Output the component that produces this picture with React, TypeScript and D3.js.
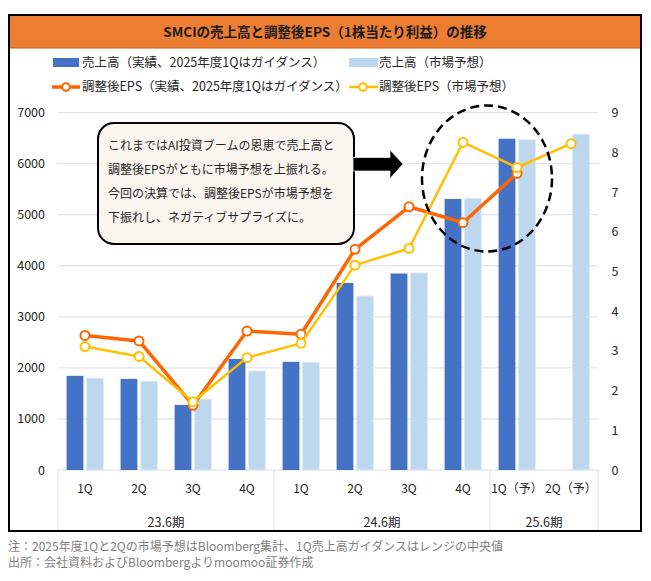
import React from "react";
import * as d3 from "d3";

const quarters = ["1Q", "2Q", "3Q", "4Q", "1Q", "2Q", "3Q", "4Q", "1Q（予）", "2Q（予）"];
const fiscalYears = ["23.6期", "24.6期", "25.6期"];
const fiscalYearSizes = [4, 4, 2];
const revenueActual: (number | null)[] = [1845, 1785, 1275, 2175, 2120, 3665, 3850, 5310, 6490, null];
const revenueConsensus: (number | null)[] = [1800, 1740, 1390, 1940, 2110, 3410, 3860, 5320, 6470, 6580];
const epsActual: (number | null)[] = [3.39, 3.25, 1.63, 3.5, 3.42, 5.56, 6.63, 6.23, 7.47, null];
const epsConsensus: (number | null)[] = [3.11, 2.86, 1.72, 2.83, 3.19, 5.16, 5.58, 8.25, 7.62, 8.22];
const leftTicks = [0, 1000, 2000, 3000, 4000, 5000, 6000, 7000];
const rightTicks = [0, 1, 2, 3, 4, 5, 6, 7, 8, 9];

const titleText = "SMCIの売上高と調整後EPS（1株当たり利益）の推移";
const legendLabels = [
  "売上高（実績、2025年度1Qはガイダンス）",
  "売上高（市場予想）",
  "調整後EPS（実績、2025年度1Qはガイダンス）",
  "調整後EPS（市場予想）",
];
const noteLines = [
  "これまではAI投資ブームの恩恵で売上高と",
  "調整後EPSがともに市場予想を上振れる。",
  "今回の決算では、調整後EPSが市場予想を",
  "下振れし、ネガティブサプライズに。",
];
const footnotes = [
  "注：2025年度1Qと2Qの市場予想はBloomberg集計、1Q売上高ガイダンスはレンジの中央値",
  "出所：会社資料およびBloombergよりmoomoo証券作成",
];

const FONT = "'Noto Sans CJK JP', 'Noto Sans', sans-serif";
const C_BLUE = "#4472C4";
const C_LIGHT = "#BDD7EE";
const C_ORANGE = "#FF6600";
const C_YELLOW = "#FFC000";
const C_GRID = "#D9DEE6";
const C_TEXT = "#262626";

export default function App() {
  const W = 651, H = 581;
  const plotL = 58, plotR = 598, plotT = 112.7, plotB = 470;
  const frameL = 9, frameR = 641, frameT = 15, frameB = 531;

  const idx = quarters.map((_, i) => String(i));
  const x = d3.scaleBand<string>().domain(idx).range([plotL, plotR]).paddingInner(0).paddingOuter(0);
  const xs = d3.scaleBand<string>().domain(["a", "c"]).range([0, x.bandwidth()]).paddingInner(0.16).paddingOuter(0.43);
  const y = d3.scaleLinear().domain([0, 7000]).range([plotB, plotT]);
  const y2 = d3.scaleLinear().domain([0, 9]).range([plotB, plotT]);

  const cx = (i: number) => (x(String(i)) as number) + x.bandwidth() / 2;

  const lineGen = d3
    .line<[number, number | null]>()
    .defined((d) => d[1] !== null)
    .x((d) => cx(d[0]))
    .y((d) => y2(d[1] as number));

  const epsA = epsActual.map((v, i) => [i, v] as [number, number | null]);
  const epsC = epsConsensus.map((v, i) => [i, v] as [number, number | null]);

  // group boundaries
  const boundaries: number[] = [0];
  fiscalYearSizes.forEach((s, i) => boundaries.push(boundaries[i] + s));
  const boundaryX = (k: number) => (k < quarters.length ? (x(String(k)) as number) : plotR);

  return (
    <svg width={W} height={H} style={{ position: "absolute", left: 0, top: 0, background: "#fff" }} fontFamily={FONT}>
      {/* frame + title band */}
      <rect x={frameL} y={frameT} width={frameR - frameL} height={48 - frameT} fill="#ED7D31" />
      <line x1={frameL} x2={frameR} y1={48} y2={48} stroke="#C55A11" strokeWidth={1} />
      <text x={(frameL + frameR) / 2} y={37} textAnchor="middle" fontSize={13.5} fontWeight="bold" fill="#1a1a1a">
        {titleText}
      </text>

      {/* legend */}
      <rect x={53} y={58} width={26} height={9} fill={C_BLUE} />
      <text x={82} y={67} fontSize={12.5} fill={C_TEXT}>{legendLabels[0]}</text>
      <rect x={349} y={58} width={29} height={9} fill={C_LIGHT} />
      <text x={379} y={67} fontSize={12.5} fill={C_TEXT}>{legendLabels[1]}</text>
      <line x1={52} x2={80} y1={87} y2={87} stroke={C_ORANGE} strokeWidth={3.5} />
      <circle cx={66} cy={87} r={3.8} fill="#fff" stroke={C_ORANGE} strokeWidth={2} />
      <text x={82} y={91} fontSize={12.5} fill={C_TEXT}>{legendLabels[2]}</text>
      <line x1={349} x2={378} y1={87} y2={87} stroke={C_YELLOW} strokeWidth={2.5} />
      <circle cx={363} cy={87} r={3.8} fill="#fff" stroke={C_YELLOW} strokeWidth={2} />
      <text x={379} y={91} fontSize={12.5} fill={C_TEXT}>{legendLabels[3]}</text>

      {/* gridlines */}
      {leftTicks.map((t) => (
        <line key={"g" + t} x1={plotL} x2={plotR} y1={y(t)} y2={y(t)} stroke={C_GRID} strokeWidth={1} />
      ))}
      {leftTicks.map((t) => (
        <text key={"l" + t} x={45} y={y(t) + 4.5} textAnchor="end" fontSize={12.5} fill={C_TEXT}>
          {t}
        </text>
      ))}
      {rightTicks.map((t) => (
        <text key={"r" + t} x={615} y={y2(t) + 4.5} textAnchor="middle" fontSize={12.5} fill={C_TEXT}>
          {t}
        </text>
      ))}

      {/* category axis separators */}
      {boundaries.map((b) => (
        <line key={"b" + b} x1={boundaryX(b)} x2={boundaryX(b)} y1={plotB} y2={frameB} stroke={C_GRID} strokeWidth={1} />
      ))}

      {/* bars */}
      {revenueActual.map((v, i) =>
        v === null ? null : (
          <rect key={"ba" + i} x={(x(String(i)) as number) + (xs("a") as number)} y={y(v)} width={xs.bandwidth()} height={plotB - y(v)} fill={C_BLUE} />
        )
      )}
      {revenueConsensus.map((v, i) =>
        v === null ? null : (
          <rect key={"bc" + i} x={(x(String(i)) as number) + (xs("c") as number)} y={y(v)} width={xs.bandwidth()} height={plotB - y(v)} fill={C_LIGHT} stroke="#DDEBF7" strokeWidth={1} />
        )
      )}

      {/* eps lines */}
      <path d={lineGen(epsA) || ""} fill="none" stroke={C_ORANGE} strokeWidth={3.5} strokeLinejoin="round" />
      {epsA.map(([i, v]) =>
        v === null ? null : <circle key={"ea" + i} cx={cx(i)} cy={y2(v)} r={4.5} fill="#fff" stroke={C_ORANGE} strokeWidth={2} />
      )}
      <path d={lineGen(epsC) || ""} fill="none" stroke={C_YELLOW} strokeWidth={2.5} strokeLinejoin="round" />
      {epsC.map(([i, v]) =>
        v === null ? null : <circle key={"ec" + i} cx={cx(i)} cy={y2(v)} r={4.5} fill="#fff" stroke={C_YELLOW} strokeWidth={2} />
      )}

      {/* category labels */}
      {quarters.map((q, i) => (
        <text key={"q" + i} x={cx(i)} y={493} textAnchor="middle" fontSize={12} fill={C_TEXT}>
          {q}
        </text>
      ))}
      {fiscalYears.map((f, k) => (
        <text key={"f" + k} x={(boundaryX(boundaries[k]) + boundaryX(boundaries[k + 1])) / 2} y={527} textAnchor="middle" fontSize={12.5} fill={C_TEXT}>
          {f}
        </text>
      ))}

      {/* annotation box */}
      <rect x={98} y={123} width={256} height={121} rx={16} ry={16} fill="#FBF5F0" stroke="#000" strokeWidth={2} />
      {noteLines.map((s, i) => (
        <text key={"n" + i} x={108} y={150 + i * 24} fontSize={12} fill={C_TEXT}>
          {s}
        </text>
      ))}
      {/* arrow */}
      <polygon points="353,157.5 390,157.5 390,150 403,164 390,178.5 390,171 353,171" fill="#000" stroke="#E5E5E5" strokeWidth={0.8} />
      {/* dashed ellipse */}
      <ellipse cx={487} cy={178.5} rx={65} ry={73} fill="none" stroke="#000" strokeWidth={2.5} strokeDasharray="9 5" />

      {/* frame */}
      <rect x={frameL} y={frameT} width={frameR - frameL} height={frameB - frameT} fill="none" stroke="#000" strokeWidth={2} />

      {/* footnotes */}
      {footnotes.map((s, i) => (
        <text key={"fn" + i} x={8} y={551 + i * 16} fontSize={12} fill="#7F7F7F">
          {s}
        </text>
      ))}
    </svg>
  );
}
